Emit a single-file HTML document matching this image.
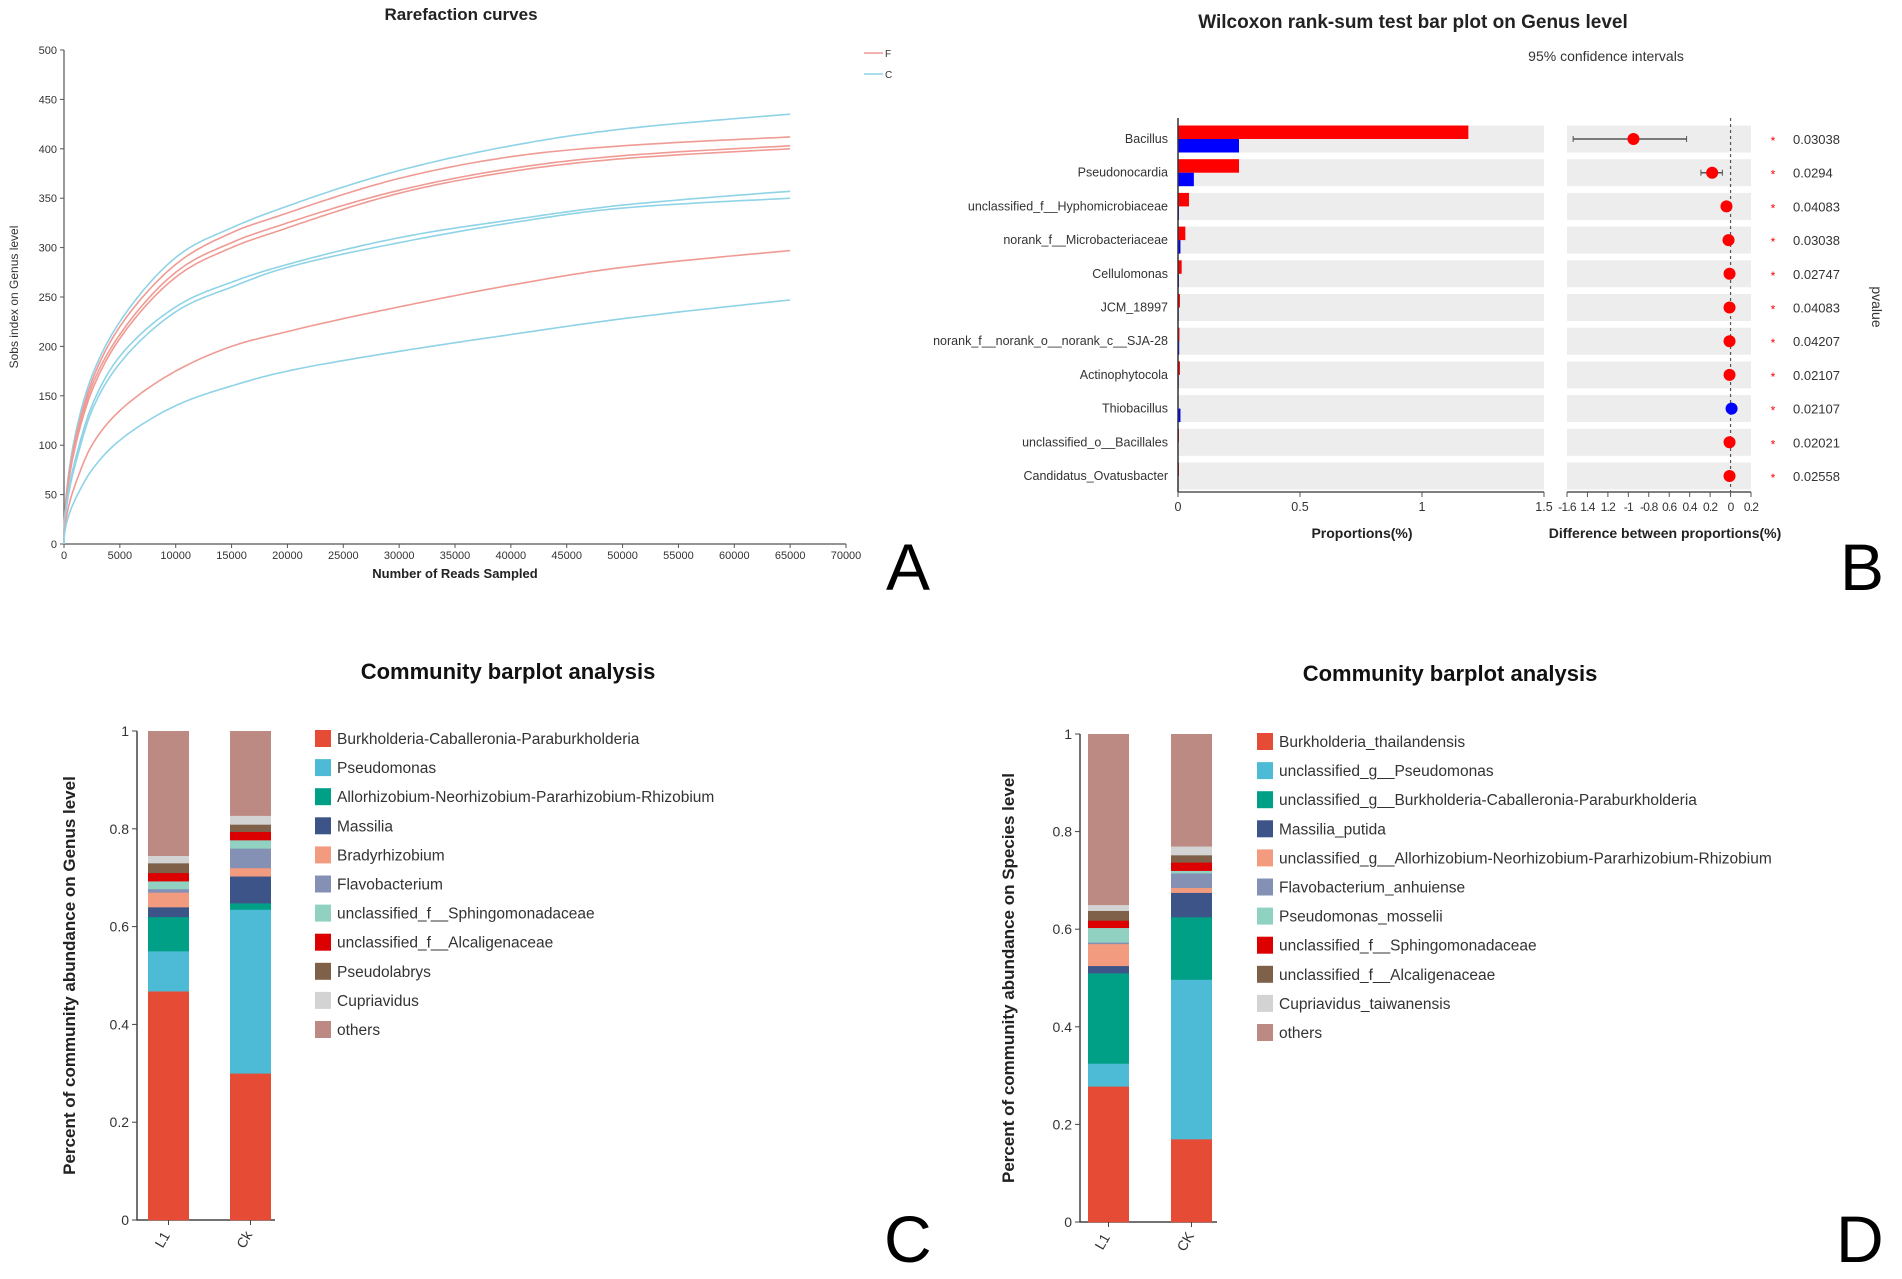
<!DOCTYPE html>
<html><head><meta charset="utf-8"><style>
html,body{margin:0;padding:0;background:#fff;}
svg{display:block;font-family:"Liberation Sans",Arial,sans-serif;}
</style></head><body>
<svg id="fig" width="1902" height="1279" viewBox="0 0 1902 1279" xmlns="http://www.w3.org/2000/svg">
<g id="pA"></g>
<g id="pB"></g>
<g id="pC"></g>
<g id="pD"></g>
</svg>
<script>
// ---------- Panel A data ----------
const rareX = [0,1000,2500,5000,10000,15000,20000,30000,40000,50000,65000];
const rareC1 = [0,110,170,225,290,320,342,378,403,420,435];
const rareR1 = [0,105,165,220,283,315,335,370,392,403,412];
const rareR2 = [0,100,160,212,275,305,325,358,380,393,403];
const rareR3 = [0,98,155,208,270,300,320,355,377,390,400];
const rareC2 = [0,85,140,190,240,265,283,310,328,343,357];
const rareC3 = [0,80,135,183,235,260,280,305,325,340,350];
const rareR4 = [0,60,100,135,175,200,215,240,262,280,297];
const rareC4 = [0,45,75,105,140,160,175,195,212,228,247];
const rareSeries = [[rareC1,'cyan'],[rareR1,'red'],[rareR2,'red'],[rareR3,'red'],[rareC2,'cyan'],[rareC3,'cyan'],[rareR4,'red'],[rareC4,'cyan']];
const rareXTicks = [0,5000,10000,15000,20000,25000,30000,35000,40000,45000,50000,55000,60000,65000,70000];
const rareYTicks = [0,50,100,150,200,250,300,350,400,450,500];
// ---------- Panel B data ----------
const genera = ['Bacillus','Pseudonocardia','unclassified_f__Hyphomicrobiaceae','norank_f__Microbacteriaceae','Cellulomonas','JCM_18997','norank_f__norank_o__norank_c__SJA-28','Actinophytocola','Thiobacillus','unclassified_o__Bacillales','Candidatus_Ovatusbacter'];
const propRed = [1.19,0.25,0.045,0.03,0.015,0.008,0.006,0.008,0.002,0.004,0.004];
const propBlue = [0.25,0.065,0.004,0.01,0.004,0.003,0.005,0.003,0.01,0.002,0.002];
const diffVal = [-0.95,-0.18,-0.04,-0.02,-0.01,-0.01,-0.01,-0.01,0.01,-0.01,-0.01];
const diffLo = [-1.54,-0.29,-0.05,-0.03,-0.02,-0.02,-0.02,-0.02,0.0,-0.02,-0.02];
const diffHi = [-0.43,-0.08,-0.03,-0.01,0.0,0.0,0.0,0.0,0.02,0.0,0.0];
const pvals = ['0.03038','0.0294','0.04083','0.03038','0.02747','0.04083','0.04207','0.02107','0.02107','0.02021','0.02558'];
const propTicks = ['0','0.5','1','1.5'];
const propTickVals = [0,0.5,1,1.5];
const diffTickVals = [-1.6,-1.4,-1.2,-1,-0.8,-0.6,-0.4,-0.2,0,0.2];
const diffTickLabels = ['-1.6','1.4','1.2','-1','-0.8','0.6','0.4','0.2','0','0.2'];
// ---------- Panel C data ----------
const samples = ['L1','Ck'];
const genusNames = ['Burkholderia-Caballeronia-Paraburkholderia','Pseudomonas','Allorhizobium-Neorhizobium-Pararhizobium-Rhizobium','Massilia','Bradyrhizobium','Flavobacterium','unclassified_f__Sphingomonadaceae','unclassified_f__Alcaligenaceae','Pseudolabrys','Cupriavidus','others'];
const genusL1 = [0.468,0.082,0.07,0.02,0.03,0.007,0.016,0.017,0.02,0.015,0.255];
const genusCK = [0.30,0.335,0.013,0.055,0.017,0.04,0.017,0.017,0.015,0.018,0.173];
// ---------- Panel D data ----------
const samplesD = ['L1','CK'];
const speciesNames = ['Burkholderia_thailandensis','unclassified_g__Pseudomonas','unclassified_g__Burkholderia-Caballeronia-Paraburkholderia','Massilia_putida','unclassified_g__Allorhizobium-Neorhizobium-Pararhizobium-Rhizobium','Flavobacterium_anhuiense','Pseudomonas_mosselii','unclassified_f__Sphingomonadaceae','unclassified_f__Alcaligenaceae','Cupriavidus_taiwanensis','others'];
const speciesL1 = [0.278,0.047,0.185,0.015,0.045,0.003,0.03,0.015,0.02,0.012,0.35];
const speciesCK = [0.17,0.327,0.128,0.05,0.01,0.03,0.005,0.017,0.015,0.018,0.23];
const abundTicks = [0,0.2,0.4,0.6,0.8,1];
const abundTickLabels = ['0','0.2','0.4','0.6','0.8','1'];
const palette = ['#e64b35','#4dbbd5','#00a087','#3c5488','#f39b7f','#8491b4','#91d1c2','#dc0000','#7e6148','#d3d3d3','#bc8a82'];
const paletteD = ['#e64b35','#4dbbd5','#00a087','#3c5488','#f39b7f','#8491b4','#91d1c2','#dc0000','#7e6148','#d3d3d3','#bc8a82'];

const NS='http://www.w3.org/2000/svg';
function mk(parent,tag,attrs,text){const e=document.createElementNS(NS,tag);for(const k in attrs)e.setAttribute(k,attrs[k]);if(text!==undefined)e.textContent=text;parent.appendChild(e);return e;}

// ===== Panel A =====
(function(){
const g=document.getElementById('pA');
const x0=64,x1=846,y0=544,y1=50;
const sx=v=>x0+(v/70000)*(x1-x0), sy=v=>y0-(v/500)*(y0-y1);
let t=mk(g,'text',{x:461,y:20,'text-anchor':'middle','font-size':17,'font-weight':'bold',fill:'#222'},'Rarefaction curves');


let ax=mk(g,'path',{d:`M${x0} ${y1}V${y0}H${x1}`,stroke:'#555','stroke-width':1.2,fill:'none'});


rareYTicks.forEach(v=>{mk(g,'line',{x1:x0-4,x2:x0,y1:sy(v),y2:sy(v),stroke:'#555'});
 const l=mk(g,'text',{x:x0-7,y:sy(v)+4,'text-anchor':'end','font-size':11,fill:'#333'},v);
 
 });
rareXTicks.forEach(v=>{mk(g,'line',{x1:sx(v),x2:sx(v),y1:y0,y2:y0+4,stroke:'#555'});
 const l=mk(g,'text',{x:sx(v),y:y0+15,'text-anchor':'middle','font-size':11,fill:'#333'},v);
 
 });
t=mk(g,'text',{x:455,y:578,'text-anchor':'middle','font-size':13,'font-weight':'bold',fill:'#222'},'Number of Reads Sampled');


t=mk(g,'text',{x:18,y:297,'text-anchor':'middle','font-size':12,fill:'#333',transform:'rotate(-90 18 297)'},'Sobs index on Genus level');


rareSeries.forEach((s,i)=>{
 // Catmull-Rom in (sqrt(x), y) space, then map back
 const pts=rareX.map((x,j)=>[Math.sqrt(x),s[0][j]]);
 const out=[];
 for(let j=0;j<pts.length-1;j++){
  const p0=pts[Math.max(j-1,0)],p1=pts[j],p2=pts[j+1],p3=pts[Math.min(j+2,pts.length-1)];
  for(let k=0;k<20;k++){const tt=k/20,t2=tt*tt,t3=t2*tt;
   const f=(a,b,c,d)=>0.5*((2*b)+(-a+c)*tt+(2*a-5*b+4*c-d)*t2+(-a+3*b-3*c+d)*t3);
   const u=f(p0[0],p1[0],p2[0],p3[0]), v=f(p0[1],p1[1],p2[1],p3[1]);
   out.push([sx(u*u),sy(v)]);}
 }
 const last=pts[pts.length-1]; out.push([sx(last[0]*last[0]),sy(last[1])]);
 const d='M'+out.map(p=>p[0].toFixed(1)+' '+p[1].toFixed(1)).join(' L');
 const p=mk(g,'path',{d,fill:'none',stroke:s[1]==='red'?'#f09a94':'#8fd3e6','stroke-width':1.6});
 
 
});
[['#f09a94',53,'F'],['#8fd3e6',74,'C']].forEach(l=>{
 const ln=mk(g,'line',{x1:864,x2:883,y1:l[1],y2:l[1],stroke:l[0],'stroke-width':1.5});
 
 
 mk(g,'text',{x:885,y:l[1]+4,'font-size':10,fill:'#333'},l[2]);
});
t=mk(g,'text',{x:886,y:590,'font-size':66,fill:'#000'},'A');


})();

// ===== Panel B =====
(function(){
const g=document.getElementById('pB');
const L0=1178,L1=1544,R0=1567,R1=1751,rowY0=139,pitch=33.7,bandH=27,axY=492;
const px=v=>L0+v/1.5*(L1-L0), dx=v=>R0+(v+1.6)/1.8*(R1-R0);
let t=mk(g,'text',{x:1413,y:28,'text-anchor':'middle','font-size':19,'font-weight':'bold',fill:'#222'},'Wilcoxon rank-sum test bar plot on Genus level');


t=mk(g,'text',{x:1606,y:61,'text-anchor':'middle','font-size':14,fill:'#333'},'95% confidence intervals');


genera.forEach((n,i)=>{
 const cy=rowY0+i*pitch;
 const b1=mk(g,'rect',{x:L0,y:cy-bandH/2,width:L1-L0,height:bandH,fill:'#ededed'});
 
 
 mk(g,'rect',{x:R0,y:cy-bandH/2,width:R1-R0,height:bandH,fill:'#ededed'});
 const lb=mk(g,'text',{x:L0-10,y:cy+4,'text-anchor':'end','font-size':12.5,fill:'#333'},n);
 
 
 const r=mk(g,'rect',{x:L0,y:cy-bandH/2,width:px(propRed[i])-L0,height:bandH/2,fill:'#ff0000'});
 
 
 const bb=mk(g,'rect',{x:L0,y:cy,width:px(propBlue[i])-L0,height:bandH/2,fill:'#0000ff'});
 
 
 const pv=mk(g,'text',{x:1793,y:cy+5,'font-size':13,fill:'#333'},pvals[i]);
 
 
 mk(g,'text',{x:1773,y:cy+6,'text-anchor':'middle','font-size':12,fill:'#ff0000'},'*');
});
const dl=mk(g,'line',{x1:dx(0),x2:dx(0),y1:118,y2:axY,stroke:'#555','stroke-dasharray':'3,3','stroke-width':1.2});


genera.forEach((n,i)=>{
 const cy=rowY0+i*pitch;
 if(diffHi[i]-diffLo[i]>0.05){mk(g,'line',{x1:dx(diffLo[i]),x2:dx(diffHi[i]),y1:cy,y2:cy,stroke:'#555','stroke-width':1.5});
  mk(g,'line',{x1:dx(diffLo[i]),x2:dx(diffLo[i]),y1:cy-3,y2:cy+3,stroke:'#555'});
  mk(g,'line',{x1:dx(diffHi[i]),x2:dx(diffHi[i]),y1:cy-3,y2:cy+3,stroke:'#555'});}
 const c=mk(g,'circle',{cx:dx(diffVal[i]),cy,r:6,fill:diffVal[i]>0?'#0000ff':'#ff0000'});
 
 
});
mk(g,'path',{d:`M${L0} ${axY}H${L1}`,stroke:'#555','stroke-width':1.5});
mk(g,'path',{d:`M${R0} ${axY}H${R1}`,stroke:'#555','stroke-width':1.5});
mk(g,'line',{x1:L0,x2:L0,y1:118,y2:axY,stroke:'#333','stroke-width':1.5});
propTickVals.forEach((v,i)=>{mk(g,'line',{x1:px(v),x2:px(v),y1:axY,y2:axY+5,stroke:'#555'});
 const l=mk(g,'text',{x:px(v),y:axY+19,'text-anchor':'middle','font-size':12.5,fill:'#333'},propTicks[i]);
 
 });
diffTickVals.forEach((v,i)=>{mk(g,'line',{x1:dx(v),x2:dx(v),y1:axY,y2:axY+5,stroke:'#555'});
 const l=mk(g,'text',{x:dx(v),y:axY+19,'text-anchor':'middle','font-size':12,fill:'#333','letter-spacing':'-0.8'},diffTickLabels[i]);
 
 });
t=mk(g,'text',{x:1362,y:538,'text-anchor':'middle','font-size':14,'font-weight':'bold',fill:'#222'},'Proportions(%)');


t=mk(g,'text',{x:1665,y:538,'text-anchor':'middle','font-size':14,'font-weight':'bold',fill:'#222'},'Difference between proportions(%)');


t=mk(g,'text',{x:1872,y:307,'text-anchor':'middle','font-size':14,fill:'#333',transform:'rotate(90 1872 307)'},'pvalue');


t=mk(g,'text',{x:1840,y:590,'font-size':66,fill:'#000'},'B');


})();

// ===== Panels C & D =====
function barPanel(id,o){
const g=document.getElementById(id);
const sy=v=>o.y0-v*(o.y0-o.y1);
let t=mk(g,'text',{x:o.tx,y:o.ty,'text-anchor':'middle','font-size':22,'font-weight':'bold',fill:'#111'},'Community barplot analysis');


mk(g,'path',{d:`M${o.ax} ${o.y1}V${o.y0}H${o.ax+o.axW}`,stroke:'#444','stroke-width':1.5,fill:'none'});
abundTicks.forEach((v,i)=>{mk(g,'line',{x1:o.ax-5,x2:o.ax,y1:sy(v),y2:sy(v),stroke:'#444'});
 const l=mk(g,'text',{x:o.ax-8,y:sy(v)+5,'text-anchor':'end','font-size':14,fill:'#333'},abundTickLabels[i]);
 
 });
t=mk(g,'text',{x:o.ytx,y:(o.y0+o.y1)/2,'text-anchor':'middle','font-size':17,'font-weight':'bold',fill:'#222',transform:`rotate(-90 ${o.ytx} ${(o.y0+o.y1)/2})`},o.ytitle);


o.series.forEach((vals,si)=>{
 let cum=0; const bx=o.bx[si];
 vals.forEach((v,k)=>{
  const top=Math.min(cum+v,1);
  const r=mk(g,'rect',{x:bx,y:sy(top),width:o.bw,height:sy(cum)-sy(top)+0.3,fill:o.colors[k]});
  
  
  cum=top;});
 const cx=bx+o.bw/2;
 mk(g,'line',{x1:cx,x2:cx,y1:o.y0,y2:o.y0+5,stroke:'#444'});
 const l=mk(g,'text',{x:cx-2,y:o.y0+22,'text-anchor':'middle','font-size':14,fill:'#333',transform:`rotate(-60 ${cx-2} ${o.y0+22})`},o.samples[si]);
 
 
});
o.names.forEach((n,k)=>{
 const y=o.ly+k*29.1;
 const s=mk(g,'rect',{x:o.lx,y:y-8,width:16,height:17,fill:o.colors[k]});
 
 
 const l=mk(g,'text',{x:o.lx+22,y:y+6,'font-size':15.5,fill:'#333'},n);
 
 
});
t=mk(g,'text',{x:o.lbx,y:1262,'font-size':66,fill:'#000'},o.label);


}
barPanel('pC',{tx:508,ty:679,ax:137,axW:138,y0:1220,y1:731,bx:[148,230],bw:41,series:[genusL1,genusCK],samples:samples,names:genusNames,colors:palette,lx:315,ly:738,ytx:75,ytitle:'Percent of community abundance on Genus level',label:'C',lbx:884});
barPanel('pD',{tx:1450,ty:681,ax:1080,axW:137,y0:1222,y1:734,bx:[1088,1171],bw:41,series:[speciesL1,speciesCK],samples:samplesD,names:speciesNames,colors:paletteD,lx:1257,ly:741,ytx:1014,ytitle:'Percent of community abundance on Species level',label:'D',lbx:1836});
</script>
</body></html>
